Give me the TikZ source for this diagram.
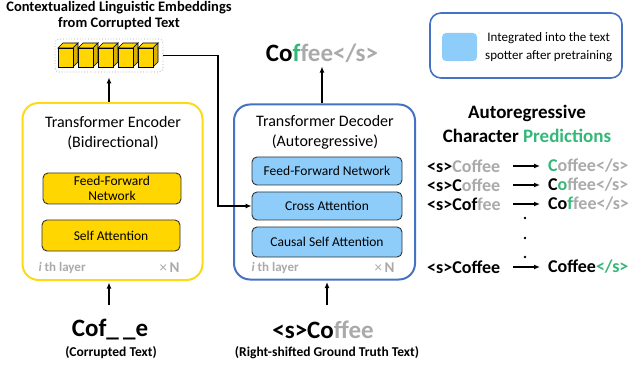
\documentclass[tikz,border=0pt]{standalone}
\usepackage{fontspec}
\setmainfont{Carlito}
\usetikzlibrary{arrows.meta,calc}
\definecolor{ylw}{RGB}{255,214,0}
\definecolor{ylwside}{RGB}{215,178,0}
\definecolor{ylwborder}{RGB}{255,217,20}
\definecolor{lblue}{RGB}{142,204,250}
\definecolor{bblue}{RGB}{68,114,196}
\definecolor{grn}{RGB}{52,184,120}
\definecolor{gry}{RGB}{170,170,170}
\newcommand{\gt}[1]{\textcolor{gry}{#1}}
\newcommand{\gn}[1]{\textcolor{grn}{#1}}
\begin{document}
\begin{tikzpicture}[x=1pt,y=-1pt,
  arr/.style={-{Latex[length=6pt,width=5pt]}, line width=1.3pt},
  rarr/.style={-{Latex[length=6pt,width=5pt]}, line width=1.6pt},
  outerbox/.style={draw, line width=2pt, rounded corners=16pt, fill=white},
  encblock/.style={draw=black!80, line width=0.9pt, fill=ylw, rounded corners=5pt, align=center, font=\fontsize{13.5}{15}\selectfont},
  decblock/.style={draw=black!80, line width=0.9pt, fill=lblue, rounded corners=5pt, align=center, font=\fontsize{13.5}{15}\selectfont},
  layertxt/.style={text=gry, font=\bfseries\fontsize{13}{15}\selectfont},
  rowtxt/.style={anchor=west, inner sep=0pt, font=\bfseries\fontsize{18}{20}\selectfont},
  bigtxt/.style={font=\bfseries\fontsize{25}{28}\selectfont, inner sep=1pt},
  captxt/.style={font=\bfseries\fontsize{13.5}{15}\selectfont}
]
\useasboundingbox (0,0) rectangle (629,366);

% ---- top-left title
\node[align=center, font=\bfseries\fontsize{14.5}{15.5}\selectfont] (embtitle) at (119,15.5) {Contextualized Linguistic Embeddings\\from Corrupted Text};

% ---- embeddings box with cubes
\node[draw=gray!70, dotted, line width=0.8pt, rounded corners=4pt, minimum width=108pt, minimum height=33pt, inner sep=0pt] (emb) at (109,55.5) {};
\foreach \i in {0,...,4}{
  \pgfmathsetmacro\xa{58+20*\i}
  \pgfmathsetmacro\xb{\xa+15}
  \pgfmathsetmacro\xc{\xa+5}
  \pgfmathsetmacro\xd{\xa+20}
  \draw[line width=0.7pt, fill=ylw] (\xa,48) -- (\xc,43) -- (\xd,43) -- (\xb,48) -- cycle;
  \draw[line width=0.7pt, fill=ylwside] (\xb,48) -- (\xd,43) -- (\xd,62) -- (\xb,67) -- cycle;
  \draw[line width=0.7pt, fill=ylw] (\xa,48) rectangle (\xb,67);
}

% ---- encoder
\node[outerbox, draw=ylwborder, minimum width=180pt, minimum height=177pt] (enc) at (112.5,191.5) {};
\node[align=center, font=\fontsize{16}{20}\selectfont] (enctitle) at (113,133) {Transformer Encoder\\(Bidirectional)};
\node[encblock, minimum width=138pt, minimum height=31pt, inner sep=0pt] (effn) at (112,188.5) {Feed-Forward\\Network};
\node[encblock, minimum width=138pt, minimum height=31pt] (esa) at (111,235.5) {Self Attention};
\node[layertxt, anchor=west] (elayer) at (35,268) {\textit{i} th layer};
\node[layertxt, anchor=east] (en) at (183,268) {\mdseries\fontsize{15}{15}\selectfont×\,\bfseries\fontsize{15}{15}\selectfont N};

% ---- decoder
\node[outerbox, draw=bblue, minimum width=181pt, minimum height=175pt] (dec) at (324.5,192) {};
\node[align=center, font=\fontsize{16}{20}\selectfont] (dectitle) at (325,132) {Transformer Decoder\\(Autoregressive)};
\node[decblock, minimum width=150pt, minimum height=28pt] (dffn) at (327,171) {Feed-Forward Network};
\node[decblock, minimum width=150pt, minimum height=28pt] (cross) at (327,206) {Cross Attention};
\node[decblock, minimum width=150pt, minimum height=30pt] (csa) at (327,242) {Causal Self Attention};
\node[layertxt, anchor=west] (dlayer) at (248,268) {\textit{i} th layer};
\node[layertxt, anchor=east] (dn) at (398,268) {\mdseries\fontsize{15}{15}\selectfont×\,\bfseries\fontsize{15}{15}\selectfont N};

% ---- output
\node[bigtxt] (out) at (322,53) {Co\gn{f}\gt{fee</s>}};

% ---- inputs
\node[bigtxt] (cor) at (110,330) {Cof\_\,\_e};
\node[captxt] (corcap) at (111,353) {(Corrupted Text)};
\node[bigtxt] (gt) at (323,330) {<s>Co\gt{ffee}};
\node[captxt] (gtcap) at (327,353) {(Right-shifted Ground Truth Text)};

% ---- arrows
\draw[arr, shorten >=5pt] (enc.north -| emb.south) -- (emb.south);
\coordinate (turn) at (218,206);
\draw[arr] (emb.east) -| (turn) -- (cross.west);
\draw[arr, shorten >=3pt] (dec.north -| out.south) -- (out.south);
\coordinate (cin) at (109,305);
\draw[arr, shorten >=1.5pt] (cin) -- (cin |- enc.south);
\coordinate (gin) at (327,305);
\draw[arr, shorten >=1.5pt] (gin) -- (gin |- dec.south);

% ---- legend
\node[draw=bblue, line width=1.6pt, rounded corners=11pt, minimum width=192pt, minimum height=65pt] (legend) at (526,45.5) {};
\node[fill=lblue, rounded corners=4pt, minimum width=35pt, minimum height=28pt, inner sep=0pt] (legsq) at (459.5,47) {};
\node[align=center, font=\fontsize{13}{18}\selectfont, anchor=west, inner sep=0pt] (legtxt) at (485,47) {Integrated into the text\\spotter after pretraining};

% ---- autoregressive predictions
\node[align=center, font=\bfseries\fontsize{19}{24}\selectfont] (arhead) at (527,124) {Autoregressive\\Character \gn{Predictions}};

\node[rowtxt] (l1) at (427,166) {<s>\gt{Coffee}};
\node[rowtxt] (r1) at (548,166) {\gn{C}\gt{offee</s>}};
\node[rowtxt] (l2) at (427,185) {<s>C\gt{offee}};
\node[rowtxt] (r2) at (548,185) {C\gn{o}\gt{ffee</s>}};
\node[rowtxt] (l3) at (427,204) {<s>Cof\gt{fee}};
\node[rowtxt] (r3) at (548,204) {Co\gn{f}\gt{fee</s>}};
\node[rowtxt] (l4) at (427,267) {<s>Coffee};
\node[rowtxt] (r4) at (548,267) {Coffee\gn{</s>}};

\foreach \n in {1,...,4}{
  \draw[rarr] ([xshift=-35pt]r\n.west) -- ([xshift=-8pt]r\n.west);
}
\foreach \yy in {218,238,257}{
  \fill (525,\yy) circle (1.3pt);
}
\end{tikzpicture}
\end{document}
